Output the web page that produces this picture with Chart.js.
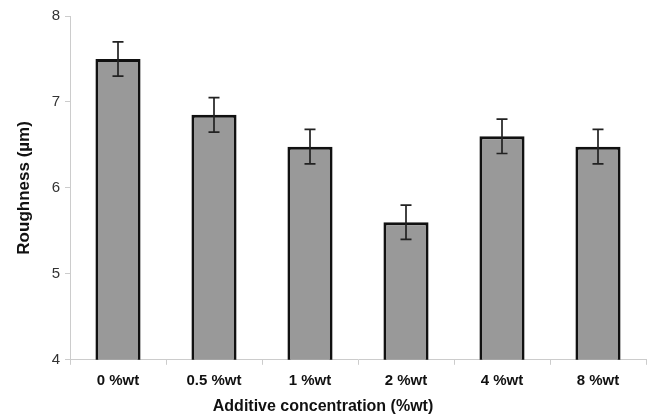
<!DOCTYPE html>
<html>
<head>
<meta charset="utf-8">
<script src="https://cdn.jsdelivr.net/npm/chart.js@4"></script>
<style>
  html, body { margin: 0; padding: 0; background: #fff; }
  #wrap { width: 647px; height: 420px; }
</style>
</head>
<body>
<div id="wrap"><canvas id="roughnessChart"></canvas></div>
<script>
// 데이터
const categories = ["0 %wt", "0.5 %wt", "1 %wt", "2 %wt", "4 %wt", "8 %wt"];
const roughness = [7.5, 6.85, 6.48, 5.6, 6.6, 6.48];
const roughnessErr = [0.2, 0.2, 0.2, 0.2, 0.2, 0.2];
const yTicks = [4, 5, 6, 7, 8];

// 에러바 그리기
const errorBars = {
  id: "errorBars",
  afterDatasetsDraw(chart) {
    const ctx = chart.ctx;
    const y = chart.scales.y;
    const meta = chart.getDatasetMeta(0);
    ctx.save();
    ctx.strokeStyle = "#222";
    ctx.lineWidth = 1.7;
    meta.data.forEach((bar, i) => {
      const top = y.getPixelForValue(roughness[i] + roughnessErr[i]);
      const bot = y.getPixelForValue(roughness[i] - roughnessErr[i]);
      const cap = 5.5;
      ctx.beginPath();
      ctx.moveTo(bar.x, top);
      ctx.lineTo(bar.x, bot);
      ctx.moveTo(bar.x - cap, top);
      ctx.lineTo(bar.x + cap, top);
      ctx.moveTo(bar.x - cap, bot);
      ctx.lineTo(bar.x + cap, bot);
      ctx.stroke();
    });
    ctx.restore();
  },
};

const data = {
  labels: categories,
  datasets: [
    {
      data: roughness,
      backgroundColor: "#999999",
      borderColor: "#111111",
      borderWidth: 3,
      borderSkipped: false,
      barPercentage: 0.47,
      categoryPercentage: 1.0,
    },
  ],
};

const options = {
  responsive: true,
  maintainAspectRatio: false,
  animation: false,
  layout: { padding: { top: 16, right: 1, left: 0, bottom: 0 } },
  plugins: {
    legend: { display: false },
    tooltip: { enabled: false },
    title: {
      display: true,
      position: "bottom",
      text: "Additive concentration (%wt)",
      color: "#111",
      font: { family: "Liberation Sans, Arial, sans-serif", size: 16, weight: "bold" },
      padding: { top: 6, bottom: 4 },
    },
  },
  scales: {
    x: {
      grid: {
        offset: true,
        drawOnChartArea: false,
        drawTicks: true,
        tickLength: 5,
        color: "#cccccc",
      },
      border: { color: "#cccccc", width: 1 },
      ticks: {
        color: "#111",
        padding: 7,
        font: { family: "Liberation Sans, Arial, sans-serif", size: 15, weight: "bold" },
      },
      afterFit(scale) { scale.height = 31; },
    },
    y: {
      min: 4,
      max: 8,
      afterBuildTicks(scale) { scale.ticks = yTicks.map(v => ({ value: v })); },
      grid: {
        drawOnChartArea: false,
        drawTicks: true,
        tickLength: 5,
        color: "#cccccc",
      },
      border: { color: "#cccccc", width: 1 },
      ticks: {
        color: "#333",
        padding: 5,
        font: { family: "Liberation Sans, Arial, sans-serif", size: 15 },
      },
      title: {
        display: true,
        text: "Roughness (µm)",
        color: "#111",
        font: { family: "Liberation Sans, Arial, sans-serif", size: 17, weight: "bold" },
        padding: { top: 14, bottom: 4 },
      },
      afterFit(scale) { scale.width = 70; },
    },
  },
};

var ctx = document.getElementById("roughnessChart").getContext("2d");
var roughnessChart = new Chart(ctx, {
  type: "bar",
  data: data,
  options: options,
  plugins: [errorBars],
});
</script>
</body>
</html>
